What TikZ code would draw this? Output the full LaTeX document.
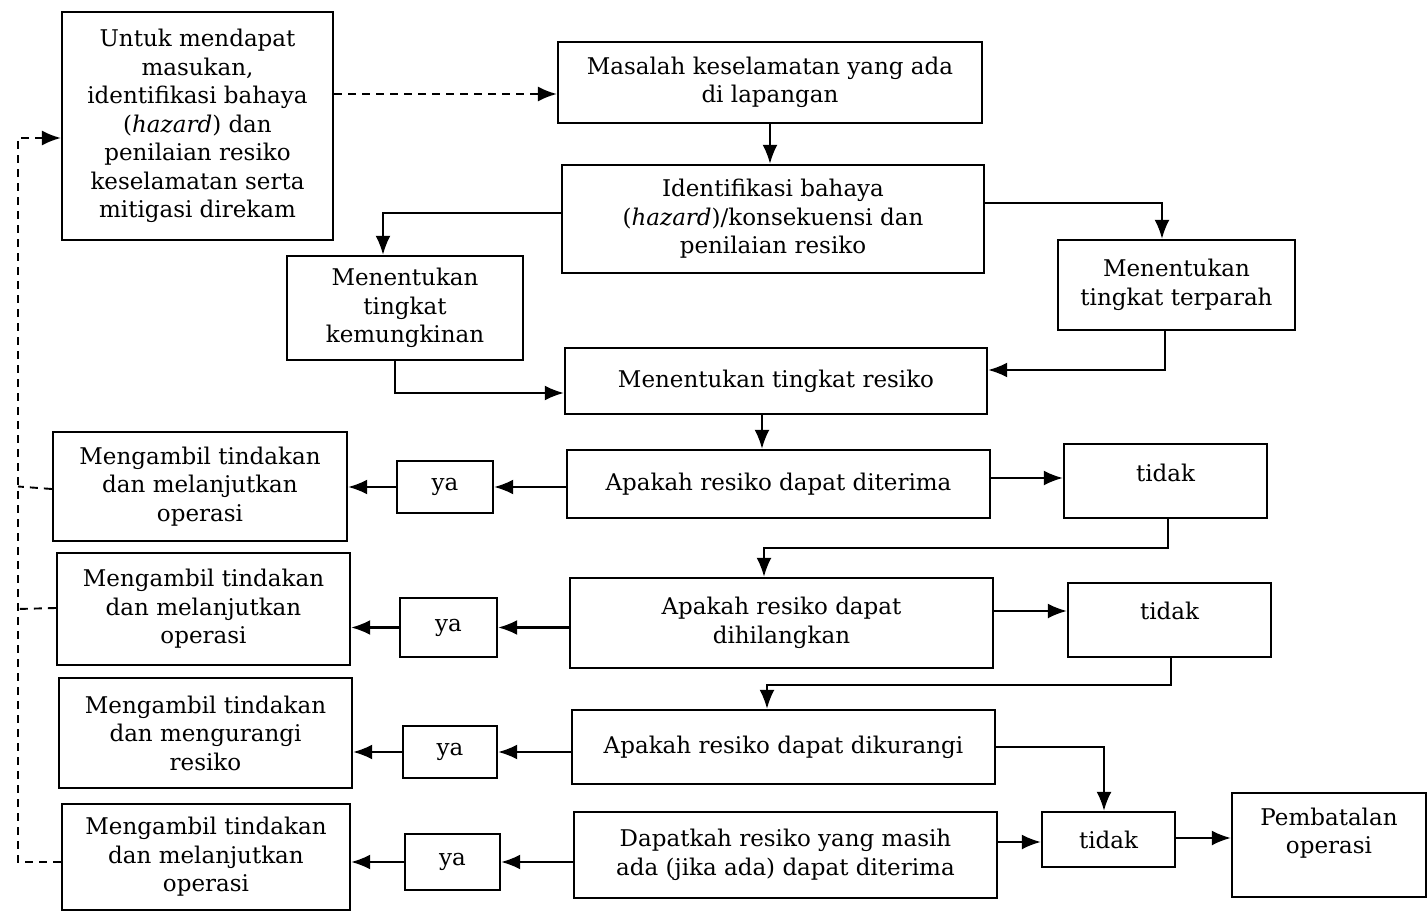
\documentclass[tikz,border=0pt]{standalone}
\usepackage{fontspec}
\setmainfont{DejaVu Serif}
\usetikzlibrary{arrows.meta}
\tikzset{
  bx/.style={draw=black, line width=2.3pt, inner sep=2pt, align=center, font=\fontsize{23}{28.5}\selectfont},
  conn/.style={line width=2.2pt, -{Latex[length=19pt,width=15pt]}},
  dconn/.style={line width=1.9pt, dash pattern=on 8pt off 6pt},
  dconnA/.style={dconn, -{Latex[length=19pt,width=15pt]}}
}
\begin{document}
\begin{tikzpicture}[x=1pt,y=-1pt]
\useasboundingbox (0,0) rectangle (1428,912);
% nodes
\node[bx, minimum width=271pt, minimum height=228pt] (A) at (197.5,126) {Untuk mendapat\\masukan,\\identifikasi bahaya\\(\textit{hazard}) dan\\penilaian resiko\\keselamatan serta\\mitigasi direkam};
\node[bx, minimum width=424pt, minimum height=81pt] (B) at (770,82.5) {Masalah keselamatan yang ada\\di lapangan};
\node[bx, minimum width=422pt, minimum height=108pt] (C) at (773,219) {Identifikasi bahaya\\(\textit{hazard})/konsekuensi dan\\penilaian resiko};
\node[bx, minimum width=236pt, minimum height=104pt] (D) at (405,308) {Menentukan\\tingkat\\kemungkinan};
\node[bx, minimum width=237pt, minimum height=90pt] (E) at (1176.5,285) {Menentukan\\tingkat terparah};
\node[bx, minimum width=422pt, minimum height=66pt] (F) at (776,381) {Menentukan tingkat resiko};
% row 1
\node[bx, minimum width=294pt, minimum height=109pt] (G1) at (200,486.5) {Mengambil tindakan\\dan melanjutkan\\operasi};
\node[bx, minimum width=96pt, minimum height=52pt] (Y1) at (445,487) {ya};
\node[bx, minimum width=423pt, minimum height=68pt] (Q1) at (778.5,484) {Apakah resiko dapat diterima};
\node[bx, minimum width=203pt, minimum height=74pt] (T1) at (1165.5,481) {tidak\\[-13pt]};
% row 2
\node[bx, minimum width=293pt, minimum height=112pt] (G2) at (203.5,609) {Mengambil tindakan\\dan melanjutkan\\operasi};
\node[bx, minimum width=97pt, minimum height=59pt] (Y2) at (448.5,627.5) {ya};
\node[bx, minimum width=423pt, minimum height=90pt] (Q2) at (781.5,623) {Apakah resiko dapat\\dihilangkan};
\node[bx, minimum width=203pt, minimum height=74pt] (T2) at (1169.5,620) {tidak\\[-11pt]};
% row 3
\node[bx, minimum width=293pt, minimum height=110pt] (G3) at (205.5,733) {Mengambil tindakan\\dan mengurangi\\resiko};
\node[bx, minimum width=94pt, minimum height=52pt] (Y3) at (450,752) {ya};
\node[bx, minimum width=423pt, minimum height=74pt] (Q3) at (783.5,747) {Apakah resiko dapat dikurangi};
% row 4
\node[bx, minimum width=288pt, minimum height=106pt] (G4) at (206,857) {Mengambil tindakan\\dan melanjutkan\\operasi};
\node[bx, minimum width=95pt, minimum height=56pt] (Y4) at (452.5,862) {ya};
\node[bx, minimum width=423pt, minimum height=86pt] (Q4) at (785.5,855) {Dapatkah resiko yang masih\\ada (jika ada) dapat diterima};
\node[bx, minimum width=133pt, minimum height=55pt] (T4) at (1108.5,839.5) {tidak};
\node[bx, minimum width=194pt, minimum height=104pt] (P) at (1329,845) {Pembatalan\\operasi\\\mbox{}};
% connectors
\draw[dconnA] (A.east |- 0,94) -- (B.west |- 0,94);
\draw[conn] (B.south) -- (C.north -| B.south);
\draw[conn] (C.west |- 0,213) -| ([xshift=-22pt]D.north);
\draw[conn] (C.east |- 0,203) -| ([xshift=-14.5pt]E.north);
\draw[conn] ([xshift=-10pt]D.south) |- (F.west |- 0,393);
\draw[conn] ([xshift=-11.5pt]E.south) |- (F.east |- 0,370);
\draw[conn] ([xshift=-14pt]F.south) -- ([xshift=-16.5pt]Q1.north);
% row 1
\draw[conn] (Q1.west |- Y1.east) -- (Y1.east);
\draw[conn] (Y1.west) -- (G1.east |- Y1.west);
\draw[conn] (Q1.east |- 0,478) -- (T1.west |- 0,478);
\coordinate (k1) at (764,548);
\draw[conn] ([xshift=2.5pt]T1.south) |- (k1) -- (Q2.north -| k1);
% row 2
\draw[conn] (Q2.west |- Y2.east) -- (Y2.east);
\draw[conn] (Y2.west) -- (G2.east |- Y2.west);
\draw[conn] (Q2.east |- 0,611) -- (T2.west |- 0,611);
\coordinate (k2) at (767,685);
\draw[conn] ([xshift=1.5pt]T2.south) |- (k2) -- (Q3.north -| k2);
% row 3
\draw[conn] (Q3.west |- Y3.east) -- (Y3.east);
\draw[conn] (Y3.west) -- (G3.east |- Y3.west);
\draw[conn] (Q3.east) -| ([xshift=-4.5pt]T4.north);
% row 4
\draw[conn] (Q4.west |- Y4.east) -- (Y4.east);
\draw[conn] (Y4.west) -- (G4.east |- Y4.west);
\draw[conn] (Q4.east |- 0,842) -- (T4.west |- 0,842);
\draw[conn] (T4.east |- 0,838) -- (P.west |- 0,838);
% dashed feedback
\coordinate (fb) at (18,862);
\draw[dconn] (G1.west |- 0,489) -- (G1.west -| fb);
\draw[dconn] (G2.west |- 0,608) -- (G2.west -| fb);
\draw[dconnA] (G4.west |- fb) -- (fb) -- (fb |- 0,138) -- (A.west |- 0,138);
\end{tikzpicture}
\end{document}
